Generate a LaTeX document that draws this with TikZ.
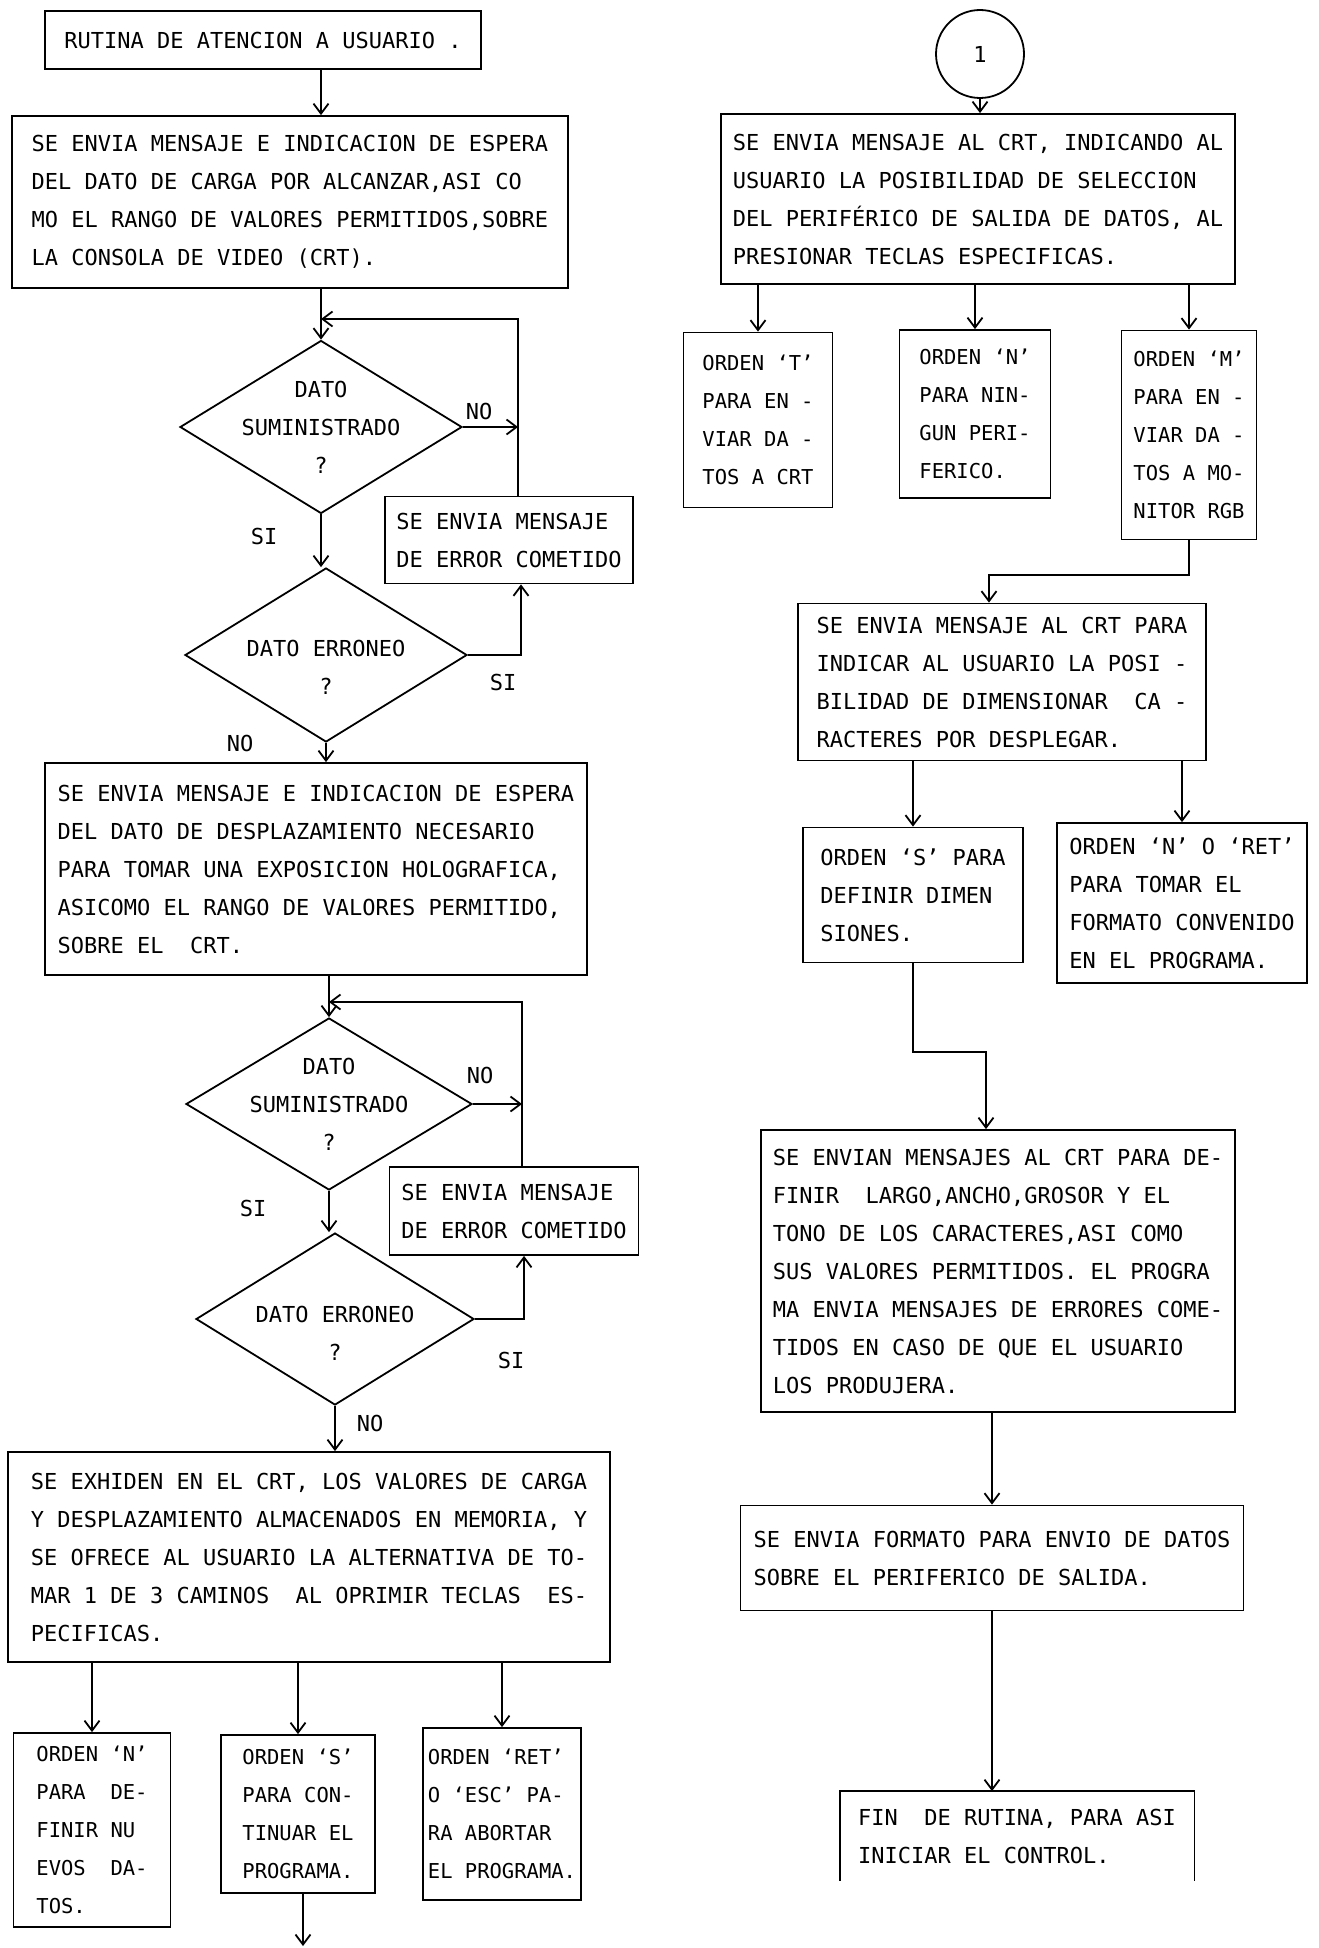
\documentclass[tikz,border=0pt]{standalone}
\usepackage{fontspec}
\setmonofont{DejaVu Sans Mono}
\usetikzlibrary{arrows.meta,shapes.geometric}
\newcommand{\letra}{\ttfamily\fontsize{22}{38}\selectfont}
\newcommand{\letrach}{\ttfamily\fontsize{20.5}{38}\selectfont}

\begin{document}
\begin{tikzpicture}[x=1pt, y=-1pt,
    caja/.style={draw, line width=1.8pt, align=left, inner sep=4pt, font=\letra},
    cajach/.style={caja, font=\letrach},
    rombo/.style={diamond, draw, line width=1.8pt, inner sep=0pt},
    txt/.style={align=center, font=\letra},
    flecha/.style={line width=1.8pt, -{Straight Barb[length=10pt,width=15pt,line width=1.8pt]}}]
            % Frame to ensure alignment:
            \fill[white] (0,0) rectangle (1318,1948);
            \useasboundingbox (0,0) rectangle (1318,1948);
            % Left column: carga y desplazamiento
            \node[caja, align=center, minimum width=436, minimum height=58] (titulo) at (263,40)
                 {RUTINA DE ATENCION A USUARIO .};
            \node[caja, minimum width=556, minimum height=172] (cargaA) at (290,202)
                 {SE ENVIA MENSAJE E INDICACION DE ESPERA\\DEL DATO DE CARGA POR ALCANZAR,ASI CO\\MO EL RANGO DE VALORES PERMITIDOS,SOBRE\\LA CONSOLA DE VIDEO (CRT).};
            \node[rombo, minimum width=282, minimum height=173] (dA) at (321,427) {};
            \node[txt] (dAt) at (dA) {DATO\\SUMINISTRADO\\?};
            \node[caja, minimum width=248, minimum height=87] (errA) at (509,540)
                 {SE ENVIA MENSAJE\\DE ERROR COMETIDO};
            \node[rombo, minimum width=282, minimum height=174] (eA) at (326,655) {};
            \node[txt, yshift=-12pt] (eAt) at (eA) {DATO ERRONEO\\?};
            \node[caja, minimum width=542, minimum height=212] (despB) at (316,869)
                 {SE ENVIA MENSAJE E INDICACION DE ESPERA\\DEL DATO DE DESPLAZAMIENTO NECESARIO\\PARA TOMAR UNA EXPOSICION HOLOGRAFICA,\\ASICOMO EL RANGO DE VALORES PERMITIDO,\\SOBRE EL\ \ CRT.};
            \node[rombo, minimum width=286, minimum height=172] (dB) at (329,1104) {};
            \node[txt] (dBt) at (dB) {DATO\\SUMINISTRADO\\?};
            \node[caja, minimum width=249, minimum height=88] (errB) at (514,1211)
                 {SE ENVIA MENSAJE\\DE ERROR COMETIDO};
            \node[rombo, minimum width=278, minimum height=172] (eB) at (335,1319) {};
            \node[txt, yshift=-14pt] (eBt) at (eB) {DATO ERRONEO\\?};
            \node[caja, minimum width=602, minimum height=210] (exhibe) at (309,1557)
                 {SE EXHIDEN EN EL CRT, LOS VALORES DE CARGA\\Y DESPLAZAMIENTO ALMACENADOS EN MEMORIA, Y\\SE OFRECE AL USUARIO LA ALTERNATIVA DE TO-\\MAR 1 DE 3 CAMINOS\ \ AL OPRIMIR TECLAS\ \ ES-\\PECIFICAS.};
            \node[cajach, minimum width=157, minimum height=194] (ordN) at (92,1830)
                 {ORDEN ‘N’\\PARA\ \ DE-\\FINIR NU\\EVOS\ \ DA-\\TOS.};
            \node[cajach, minimum width=154, minimum height=158] (ordS) at (298,1814)
                 {ORDEN ‘S’\\PARA CON-\\TINUAR EL\\PROGRAMA.};
            \node[cajach, minimum width=158, minimum height=172] (ordR) at (502,1814)
                 {ORDEN ‘RET’\\O ‘ESC’ PA-\\RA ABORTAR\\EL PROGRAMA.};
            \coordinate (salida) at (303,1946);
            % SI / NO
            \node[txt] (noA) at (479,411) {NO};
            \node[txt] (siA) at (264,536) {SI};
            \node[txt] (siE) at (503,682) {SI};
            \node[txt] (noE) at (240,743) {NO};
            \node[txt] (noB) at (480,1075) {NO};
            \node[txt] (siB) at (253,1208) {SI};
            \node[txt] (siF) at (511,1360) {SI};
            \node[txt] (noF) at (370,1423) {NO};
            % Loops
            \coordinate (rA) at (518,319);
            \coordinate (rE) at (521,0);
            \coordinate (rB) at (522,1002);
            \coordinate (rF) at (524,0);
            \draw[flecha] (titulo.south -| dA) -- (cargaA.north -| dA);
            \draw[flecha] (cargaA.south -| dA) -- (dA.north);
            \draw[flecha] (errA.north -| rA) -- (rA) -- (rA -| dA);
            \draw[flecha] (dA.east) -- (dA.east -| rA);
            \draw[flecha] (dA.south) -- (dA.south |- eA.north);
            \draw[flecha] (eA.east) -- (eA.east -| rE) -- (rE |- errA.south);
            \draw[flecha] (eA.south) -- (eA.south |- despB.north);
            \draw[flecha] (despB.south -| dB) -- (dB.north);
            \draw[flecha] (errB.north -| rB) -- (rB) -- (rB -| dB);
            \draw[flecha] (dB.east) -- (dB.east -| rB);
            \draw[flecha] (dB.south) -- (dB.south |- eB.north);
            \draw[flecha] (eB.east) -- (eB.east -| rF) -- (rF |- errB.south);
            \draw[flecha] (eB.south) -- (eB.south |- exhibe.north);
            \draw[flecha] (exhibe.south -| ordN) -- (ordN.north);
            \draw[flecha] (exhibe.south -| ordS) -- (ordS.north);
            \draw[flecha] (exhibe.south -| ordR) -- (ordR.north);
            \draw[flecha] (ordS.south -| salida) -- (salida);
            % Right column: periferico de salida
            \node[draw, circle, line width=1.8pt, minimum size=88, font=\letra] (uno) at (980,54) {1};
            \node[caja, minimum width=514, minimum height=170] (perD) at (978,199)
                 {SE ENVIA MENSAJE AL CRT, INDICANDO AL\\USUARIO LA POSIBILIDAD DE SELECCION\\DEL PERIFÉRICO DE SALIDA DE DATOS, AL\\PRESIONAR TECLAS ESPECIFICAS.};
            \node[cajach, minimum width=149, minimum height=175] (ordT) at (758,420)
                 {ORDEN ‘T’\\PARA EN -\\VIAR DA -\\TOS A CRT};
            \node[cajach, minimum width=151, minimum height=168] (ordNi) at (975,414)
                 {ORDEN ‘N’\\PARA NIN-\\GUN PERI-\\FERICO.};
            \node[cajach, minimum width=135, minimum height=209] (ordM) at (1189,435)
                 {ORDEN ‘M’\\PARA EN -\\VIAR DA -\\TOS A MO-\\NITOR RGB};
            \node[caja, minimum width=408, minimum height=157] (dimE) at (1002,682)
                 {SE ENVIA MENSAJE AL CRT PARA\\INDICAR AL USUARIO LA POSI -\\BILIDAD DE DIMENSIONAR\ \ CA -\\RACTERES POR DESPLEGAR.};
            \node[caja, minimum width=220, minimum height=135] (ordSd) at (913,895)
                 {ORDEN ‘S’ PARA\\DEFINIR DIMEN\\SIONES.};
            \node[caja, minimum width=250, minimum height=160] (ordNR) at (1182,903)
                 {ORDEN ‘N’ O ‘RET’\\PARA TOMAR EL\\FORMATO CONVENIDO\\EN EL PROGRAMA.};
            \node[caja, minimum width=474, minimum height=282] (tamF) at (998,1271)
                 {SE ENVIAN MENSAJES AL CRT PARA DE-\\FINIR\ \ LARGO,ANCHO,GROSOR Y EL\\TONO DE LOS CARACTERES,ASI COMO\\SUS VALORES PERMITIDOS. EL PROGRA\\MA ENVIA MENSAJES DE ERRORES COME-\\TIDOS EN CASO DE QUE EL USUARIO\\LOS PRODUJERA.};
            \node[caja, minimum width=503, minimum height=105] (formG) at (992,1558)
                 {SE ENVIA FORMATO PARA ENVIO DE DATOS\\SOBRE EL PERIFERICO DE SALIDA.};
            \node[caja, draw=none, minimum width=353, minimum height=88] (fin) at (1017,1836)
                 {FIN\ \ DE RUTINA, PARA ASI\\INICIAR EL CONTROL.};
            \draw[line width=1.8pt] (fin.south west) -- (fin.north west) -- (fin.north east) -- (fin.south east);
            % Connectors
            \coordinate (qM) at (989,575);
            \coordinate (qS) at (986,1052);
            \draw[flecha] (uno.south) -- (uno.south |- perD.north);
            \draw[flecha] (perD.south -| ordT) -- (ordT.north);
            \draw[flecha] (perD.south -| ordNi) -- (ordNi.north);
            \draw[flecha] (perD.south -| ordM) -- (ordM.north);
            \draw[flecha] (ordM.south) -- (ordM.south |- qM) -- (qM) -- (qM |- dimE.north);
            \draw[flecha] (dimE.south -| ordSd) -- (ordSd.north);
            \draw[flecha] (dimE.south -| ordNR) -- (ordNR.north);
            \draw[flecha] (ordSd.south) -- (ordSd.south |- qS) -- (qS) -- (qS |- tamF.north);
            \draw[flecha] (tamF.south -| formG) -- (formG.north);
            \draw[flecha] (formG.south) -- (formG.south |- fin.north);
\end{tikzpicture}
\end{document}
